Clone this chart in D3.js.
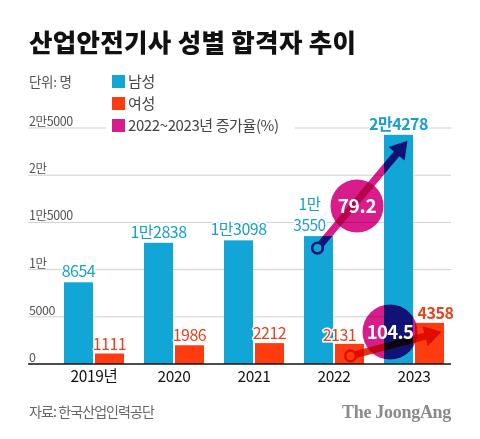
<!DOCTYPE html>
<html><head><meta charset="utf-8">
<script src="https://cdn.jsdelivr.net/npm/d3@7/dist/d3.min.js"></script>
<style>
html,body{margin:0;padding:0;background:#fff;}
svg{display:block;font-family:"Noto Sans CJK KR","Noto Sans",sans-serif;}
.mult{mix-blend-mode:multiply;}
</style></head>
<body>
<svg id="c" width="480" height="439"></svg>
<script>
const years = ["2019년","2020","2021","2022","2023"];
const male = [8654,12838,13098,13550,24278];
const female = [1111,1986,2212,2131,4358];
const maleLabels = [["8654"],["1만2838"],["1만3098"],["1만","3550"],["2만4278"]];
const femaleLabels = ["1111","1986","2212","2131","4358"];
const growth = [79.2, 104.5];
const tickValues = [0,5000,10000,15000,20000,25000];
const tickLabels = ["0","5000","1만","1만5000","2만","2만5000"];
const seriesNames = ["남성","여성","2022~2023년 증가율(%)"];

const C_M = "#12a6d6", C_F = "#ff3c10", C_G = "#d81c8b", C_R = "#e0301c";
const C_MT = "#1a9fca", C_FT = "#e4421d";

const svg = d3.select("#c");
const x0 = d3.scaleBand().domain(years).range([54,454]).paddingInner(0.25).paddingOuter(0.125);
const x1 = d3.scaleBand().domain(["m","f"]).range([0,x0.bandwidth()]).paddingInner(0.065);
const y = d3.scaleLinear().domain([0,25000]).range([364,128]);

// title
svg.append("text").attr("x",29).attr("y",52).attr("font-size",25.5).attr("font-weight",900)
  .attr("letter-spacing","0.3").attr("fill","#111").text("산업안전기사 성별 합격자 추이");
svg.append("text").attr("x",29).attr("y",87).attr("font-size",13.5).attr("fill","#555")
  .attr("letter-spacing","-0.3").text("단위: 명");

// gridlines
const grid = svg.append("g");
tickValues.slice(1).forEach((v,i)=>{
  grid.append("line").attr("x1",28).attr("x2",451).attr("y1",y(v)).attr("y2",y(v))
    .attr("stroke","#cfcfcf").attr("stroke-width",1);
});
// tick labels via axis
const axis = d3.axisLeft(y).tickValues(tickValues).tickFormat((d,i)=>tickLabels[i]).tickSize(0);
const ag = svg.append("g").attr("transform","translate(29,0)").call(axis);
ag.select(".domain").remove();
ag.selectAll("text").attr("text-anchor","start").attr("x",0).attr("dy","-0.2em")
  .attr("font-size",12.5).attr("letter-spacing","-0.4").attr("fill","#555")
  .attr("font-family",'"Noto Sans CJK KR",sans-serif');

// legend
svg.append("rect").attr("x",106).attr("y",112).attr("width",189).attr("height",22).attr("fill","#fff");
const legColors = [C_M,C_F,C_G];
seriesNames.forEach((n,i)=>{
  const ly = 75 + i*22;
  svg.append("rect").attr("x",112).attr("y",ly).attr("width",13).attr("height",13).attr("fill",legColors[i]);
  svg.append("text").attr("x",128).attr("y",ly+12).attr("font-size",15).attr("letter-spacing","-0.4")
    .attr("fill","#444").text(n);
});

// bars
const groups = svg.append("g");
years.forEach((yr,i)=>{
  groups.append("rect").attr("x",x0(yr)+x1("m")).attr("y",y(male[i])).attr("width",x1.bandwidth())
    .attr("height",y(0)-y(male[i])).attr("fill",C_M);
  groups.append("rect").attr("x",x0(yr)+x1("f")).attr("y",y(female[i])).attr("width",x1.bandwidth())
    .attr("height",y(0)-y(female[i])).attr("fill",C_F);
});

// baseline
svg.append("line").attr("x1",28).attr("x2",451).attr("y1",y(0)).attr("y2",y(0)).attr("stroke","#111").attr("stroke-width",1.5);

// year labels
years.forEach(yr=>{
  svg.append("text").attr("x",x0(yr)+x0.bandwidth()/2).attr("y",382).attr("text-anchor","middle")
    .attr("font-size",15.5).attr("fill","#111").attr("letter-spacing","-0.3").text(yr);
});

// arrows
function arrow(sx,sy,tx,ty,color){
  const g = svg.append("g").attr("class","mult");
  const dx=tx-sx, dy=ty-sy, L=Math.hypot(dx,dy), ux=dx/L, uy=dy/L, nx=-uy, ny=ux;
  const hw=3.6, hh=10.5, hl=17;
  const bx=tx-ux*hl, by=ty-uy*hl;
  const pts=[[sx+nx*hw,sy+ny*hw],[bx+nx*hw,by+ny*hw],[bx+nx*hh,by+ny*hh],[tx,ty],
             [bx-nx*hh,by-ny*hh],[bx-nx*hw,by-ny*hw],[sx-nx*hw,sy-ny*hw]];
  g.append("path").attr("d",d3.line()(pts)+"Z").attr("fill",color);
  g.append("circle").attr("cx",sx).attr("cy",sy).attr("r",5.3).attr("fill","#fff").attr("stroke",color).attr("stroke-width",2.6);
}
function bubble(cx,cy,r){
  svg.append("circle").attr("class","mult").attr("cx",cx).attr("cy",cy).attr("r",r).attr("fill",C_G);
}
const mc = (yr)=>x0(yr)+x1("m")+x1.bandwidth()/2;
const fc = (yr)=>x0(yr)+x1("f")+x1.bandwidth()/2;

bubble(357,206,26.5);
arrow(mc("2022")-1, y(male[3])+12, mc("2023")+9, y(male[4])+6, C_G);
bubble(390,332,27.5);
arrow(fc("2022")+1, y(female[3])+12, fc("2023")+12, y(female[4])+9, C_R);

svg.append("text").attr("x",357).attr("y",213).attr("text-anchor","middle").attr("font-size",19)
  .attr("font-weight",700).attr("fill","#fff").attr("letter-spacing","-0.3").text(growth[0]);
svg.append("text").attr("x",390).attr("y",339).attr("text-anchor","middle").attr("font-size",18.5)
  .attr("font-weight",700).attr("fill","#fff").attr("letter-spacing","-0.6").text(growth[1]);

// value labels
const halo = sel => sel.attr("stroke","#fff").attr("stroke-width",3).attr("paint-order","stroke").attr("stroke-linejoin","round");
years.forEach((yr,i)=>{
  const lines = maleLabels[i];
  let cx = mc(yr), bold = i===4;
  if(i===3) cx -= 9;
  const t = svg.append("text").attr("text-anchor","middle").attr("font-size",lines.length>1?15.5:16)
      .attr("font-weight",bold?700:400).attr("letter-spacing","-0.5").attr("fill",C_MT).call(halo);
  lines.forEach((s,k)=>{
    const yy = y(male[i]) - 5 - (lines.length-1-k)*21;
    t.append("tspan").attr("x",cx).attr("y",yy).text(s);
  });
  let fx = fc(yr); if(i===3) fx -= 10; if(i===4) fx += 6;
  svg.append("text").attr("x",fx).attr("y",y(female[i]) - (i===3?3:4)).attr("text-anchor","middle").attr("font-size",16)
    .attr("font-weight",i===4?700:400).attr("letter-spacing","-0.5").attr("fill",C_FT).call(halo).text(femaleLabels[i]);
});

// footer
svg.append("text").attr("x",29).attr("y",417).attr("font-size",14).attr("letter-spacing","-0.9").attr("fill","#666").text("자료: 한국산업인력공단");
svg.append("text").attr("x",451).attr("y",418).attr("text-anchor","end").attr("font-size",18).attr("font-weight",700)
  .attr("font-family",'"Liberation Serif",serif').attr("fill","#8a8a8a").attr("letter-spacing","-0.3").text("The JoongAng");
</script>
</body></html>
